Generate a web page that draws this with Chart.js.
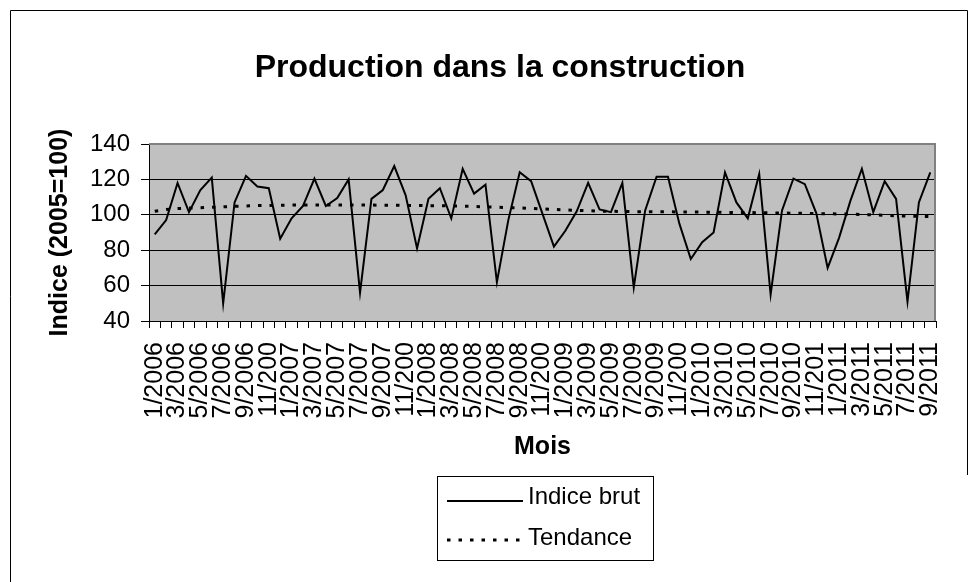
<!DOCTYPE html>
<html lang="fr">
<head>
<meta charset="utf-8">
<title>Production dans la construction</title>
<script src="https://cdn.jsdelivr.net/npm/chart.js@4.4.1/dist/chart.umd.min.js"></script>
<style>
  html, body { margin: 0; padding: 0; background: #fff; }
  #chart { display: block; }
</style>
</head>
<body>
<canvas id="chart" width="978" height="582"></canvas>
<script>
const months = [
  '1/2006', '2/2006', '3/2006', '4/2006', '5/2006', '6/2006', '7/2006', '8/2006', '9/2006', '10/2006', '11/2006', '12/2006',
  '1/2007', '2/2007', '3/2007', '4/2007', '5/2007', '6/2007', '7/2007', '8/2007', '9/2007', '10/2007', '11/2007', '12/2007',
  '1/2008', '2/2008', '3/2008', '4/2008', '5/2008', '6/2008', '7/2008', '8/2008', '9/2008', '10/2008', '11/2008', '12/2008',
  '1/2009', '2/2009', '3/2009', '4/2009', '5/2009', '6/2009', '7/2009', '8/2009', '9/2009', '10/2009', '11/2009', '12/2009',
  '1/2010', '2/2010', '3/2010', '4/2010', '5/2010', '6/2010', '7/2010', '8/2010', '9/2010', '10/2010', '11/2010', '12/2010',
  '1/2011', '2/2011', '3/2011', '4/2011', '5/2011', '6/2011', '7/2011', '8/2011', '9/2011'
];

const indiceBrut = [
  89, 97, 118, 101.5, 114, 121, 50, 107, 122, 116, 115, 86.5,
  98, 105, 120.5, 105, 109.5, 120, 56, 109, 114, 127.5, 111, 81,
  109, 115, 98, 126, 112, 117, 62, 97, 124, 119, 100.5, 82,
  91, 102, 118, 103, 101.5, 118, 59, 102.5, 121.5, 121.5, 95, 75,
  84.5, 90, 124, 107, 98, 123, 55, 102.5, 120.5, 117.3, 101, 70,
  87, 108, 126, 101.5, 119, 109, 51, 107, 124
];

const tendance = [
  102.0, 103.0, 103.5, 103.8, 104.0, 104.2, 104.5, 104.8, 105.0, 105.2, 105.3, 105.4,
  105.5, 105.5, 105.5, 105.5, 105.5, 105.5, 105.5, 105.5, 105.4, 105.4, 105.3, 105.3,
  105.2, 105.1, 105.0, 104.9, 104.7, 104.5, 104.3, 104.1, 103.9, 103.6, 103.3, 103.0,
  102.8, 102.5, 102.3, 102.1, 102.0, 101.9, 101.8, 101.8, 101.7, 101.7, 101.6, 101.6,
  101.5, 101.5, 101.4, 101.3, 101.3, 101.2, 101.1, 101.0, 100.9, 100.8, 100.7, 100.6,
  100.5, 100.4, 100.2, 100.0, 99.7, 99.5, 99.3, 99.1, 99.0
];

const yTicks = [40, 60, 80, 100, 120, 140];

const fontFamily = '"Liberation Sans", Arial, Helvetica, sans-serif';
Chart.defaults.color = '#000';
Chart.defaults.font.family = fontFamily;

// grey plot area, grey top/right border, outer frame
const plotFrame = {
  id: 'plotFrame',
  beforeDraw(chart) {
    const {ctx, chartArea: a} = chart;
    ctx.save();
    ctx.fillStyle = '#c0c0c0';
    ctx.fillRect(a.left, a.top, a.right - a.left, a.bottom - a.top);
    ctx.strokeStyle = '#000';
    ctx.lineWidth = 1;
    ctx.beginPath();
    ctx.moveTo(10.5, 582);
    ctx.lineTo(10.5, 10.5);
    ctx.lineTo(967.5, 10.5);
    ctx.lineTo(967.5, 475);
    ctx.stroke();
    ctx.restore();
  },
  beforeDatasetsDraw(chart) {
    const {ctx, chartArea: a} = chart;
    ctx.save();
    ctx.strokeStyle = '#808080';
    ctx.lineWidth = 2;
    ctx.beginPath();
    ctx.moveTo(a.left, a.top);
    ctx.lineTo(a.right - 1, a.top);
    ctx.lineTo(a.right - 1, a.bottom);
    ctx.stroke();
    ctx.restore();
  }
};

// boxed legend with long line samples, like the spreadsheet one
const boxLegend = {
  id: 'boxLegend',
  afterDraw(chart) {
    const ctx = chart.ctx;
    const lineY = [501, 540];
    const textY = [497.5, 538.5];
    ctx.save();
    ctx.strokeStyle = '#000';
    ctx.lineWidth = 1;
    ctx.strokeRect(437.5, 476.5, 216, 84);
    chart.data.datasets.forEach((ds, i) => {
      ctx.beginPath();
      ctx.lineWidth = ds.borderWidth;
      ctx.setLineDash(ds.borderDash || []);
      ctx.moveTo(447, lineY[i]);
      ctx.lineTo(523, lineY[i]);
      ctx.stroke();
      ctx.setLineDash([]);
      ctx.fillStyle = '#000';
      ctx.font = '24px ' + fontFamily;
      ctx.textBaseline = 'middle';
      ctx.textAlign = 'left';
      ctx.fillText(ds.label, 528, textY[i]);
    });
    ctx.restore();
  }
};

const ctx = document.querySelector('#chart').getContext('2d');

new Chart(ctx, {
  type: 'line',
  data: {
    labels: months,
    datasets: [
      {
        label: 'Indice brut',
        data: indiceBrut,
        borderColor: '#000',
        borderWidth: 2,
        pointRadius: 0,
        tension: 0,
        fill: false
      },
      {
        label: 'Tendance',
        data: tendance,
        borderColor: '#000',
        borderWidth: 3,
        borderDash: [3.5, 8],
        pointRadius: 0,
        tension: 0,
        fill: false
      }
    ]
  },
  options: {
    responsive: false,
    animation: false,
    devicePixelRatio: 1,
    layout: {
      padding: {top: 10, left: 64, right: 42, bottom: 122}
    },
    plugins: {
      legend: {display: false},
      tooltip: {enabled: false},
      title: {
        display: true,
        text: 'Production dans la construction',
        color: '#000',
        font: {size: 32, weight: 'bold'},
        padding: {top: 39.3, bottom: 56.3}
      }
    },
    scales: {
      x: {
        type: 'category',
        offset: true,
        grid: {
          offset: true,
          drawOnChartArea: false,
          drawTicks: true,
          tickLength: 7,
          color: '#000'
        },
        border: {display: true, color: '#000', width: 1},
        ticks: {
          autoSkip: false,
          minRotation: 90,
          maxRotation: 90,
          padding: 14,
          font: {size: 25},
          color: '#000',
          callback: function(value, index) {
            return index % 2 === 0 ? this.getLabelForValue(value).slice(0, 6) : '';
          }
        },
        title: {
          display: true,
          text: 'Mois',
          color: '#000',
          font: {size: 25, weight: 'bold'},
          padding: {top: -0.5, bottom: -2}
        }
      },
      y: {
        min: yTicks[0],
        max: yTicks[yTicks.length - 1],
        afterBuildTicks: (axis) => {
          axis.ticks = yTicks.map(v => ({value: v}));
        },
        grid: {
          color: (c) => (c.tick && (c.tick.value === 140 || c.tick.value === 40)) ? 'rgba(0,0,0,0)' : '#000',
          tickColor: '#000',
          tickLength: 8,
          lineWidth: 1
        },
        border: {display: true, color: '#000', width: 1},
        ticks: {
          padding: 11,
          font: {size: 24},
          color: '#000'
        },
        title: {
          display: true,
          text: 'Indice (2005=100)',
          color: '#000',
          font: {size: 25, weight: 'bold'},
          padding: {top: -19, bottom: 4}
        }
      }
    }
  },
  plugins: [plotFrame, boxLegend]
});
</script>
</body>
</html>
